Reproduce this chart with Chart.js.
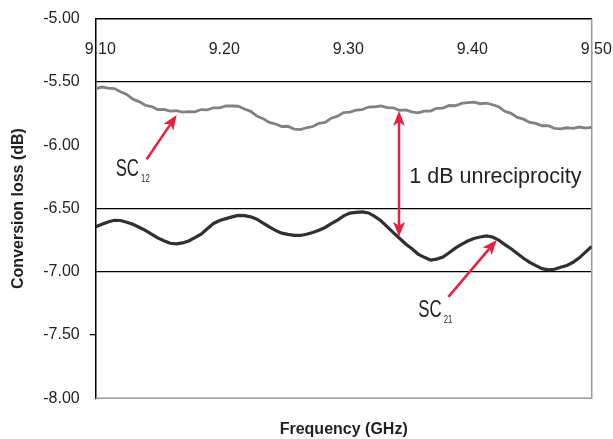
<!DOCTYPE html>
<html>
<head>
<meta charset="utf-8">
<script src="https://cdn.jsdelivr.net/npm/chart.js@4.4.1/dist/chart.umd.min.js"></script>
<style>
  html, body { margin: 0; padding: 0; background: #fff; }
</style>
</head>
<body>
<canvas id="lossChart" width="613" height="439"></canvas>
<script>
// Frequency points (GHz)
const freq = [
  9.100, 9.105, 9.110, 9.115, 9.120, 9.125, 9.130, 9.135, 9.140, 9.145,
  9.150, 9.155, 9.160, 9.165, 9.170, 9.175, 9.180, 9.185, 9.190, 9.195,
  9.200, 9.205, 9.210, 9.215, 9.220, 9.225, 9.230, 9.235, 9.240, 9.245,
  9.250, 9.255, 9.260, 9.265, 9.270, 9.275, 9.280, 9.285, 9.290, 9.295,
  9.300, 9.305, 9.310, 9.315, 9.320, 9.325, 9.330, 9.335, 9.340, 9.345,
  9.350, 9.355, 9.360, 9.365, 9.370, 9.375, 9.380, 9.385, 9.390, 9.395,
  9.400, 9.405, 9.410, 9.415, 9.420, 9.425, 9.430, 9.435, 9.440, 9.445,
  9.450, 9.455, 9.460, 9.465, 9.470, 9.475, 9.480, 9.485, 9.490, 9.495,
  9.500
];

// SC12 conversion loss (dB), grey trace
const sc12 = [
  -5.552, -5.540, -5.548, -5.552, -5.578, -5.598, -5.636, -5.655, -5.684, -5.694,
  -5.718, -5.716, -5.730, -5.726, -5.738, -5.734, -5.736, -5.718, -5.720, -5.704,
  -5.704, -5.690, -5.690, -5.692, -5.714, -5.732, -5.770, -5.790, -5.820, -5.832,
  -5.852, -5.850, -5.872, -5.876, -5.862, -5.852, -5.828, -5.820, -5.786, -5.770,
  -5.742, -5.738, -5.722, -5.718, -5.698, -5.696, -5.690, -5.702, -5.704, -5.724,
  -5.720, -5.736, -5.744, -5.730, -5.730, -5.708, -5.706, -5.686, -5.688, -5.670,
  -5.664, -5.660, -5.672, -5.668, -5.680, -5.696, -5.732, -5.748, -5.780, -5.794,
  -5.820, -5.828, -5.846, -5.846, -5.866, -5.870, -5.862, -5.866, -5.856, -5.864,
  -5.858
];

// SC21 conversion loss (dB), black trace
const sc21 = [
  -6.645, -6.625, -6.606, -6.593, -6.595, -6.608, -6.625, -6.648, -6.673, -6.703,
  -6.732, -6.755, -6.775, -6.780, -6.772, -6.757, -6.730, -6.703, -6.660, -6.618,
  -6.595, -6.580, -6.566, -6.554, -6.557, -6.566, -6.585, -6.615, -6.645, -6.673,
  -6.695, -6.705, -6.713, -6.713, -6.704, -6.690, -6.672, -6.650, -6.620, -6.592,
  -6.558, -6.536, -6.530, -6.527, -6.535, -6.562, -6.597, -6.643, -6.690, -6.735,
  -6.780, -6.818, -6.860, -6.886, -6.907, -6.900, -6.883, -6.850, -6.813, -6.783,
  -6.757, -6.737, -6.725, -6.716, -6.725, -6.750, -6.785, -6.818, -6.855, -6.893,
  -6.925, -6.952, -6.975, -6.985, -6.980, -6.965, -6.950, -6.925, -6.890, -6.845,
  -6.800
];

const xTicks = [9.10, 9.20, 9.30, 9.40, 9.50];
const yTicks = [-8.00, -7.50, -7.00, -6.50, -6.00, -5.50, -5.00];
const yGridLines = [-5.50, -6.50, -7.00];
const yTickMarks = [-7.50];

const textColor = "#231f20";
const red = "#e8203f";
const fontFamily = "'Liberation Sans', Arial, sans-serif";

// no extra side padding from tick labels
function noPad(s) {
  s.paddingLeft = 0;
  s.paddingRight = 0;
  s.paddingTop = 0;
  s.paddingBottom = 0;
}

// grey right / bottom frame lines
const framePlugin = {
  id: "frame",
  beforeDatasetsDraw(chart) {
    const { ctx, chartArea: a } = chart;
    ctx.save();
    ctx.strokeStyle = "#9a9a9a";
    ctx.lineWidth = 1.5;
    ctx.beginPath();
    ctx.moveTo(a.left, a.bottom);
    ctx.lineTo(a.right, a.bottom);
    ctx.lineTo(a.right, a.top);
    ctx.stroke();
    ctx.restore();
  },
};

function drawArrowHead(ctx, fromX, fromY, tipX, tipY) {
  const ang = Math.atan2(tipY - fromY, tipX - fromX);
  const len = 15, half = 6, notch = 11;
  ctx.save();
  ctx.translate(tipX, tipY);
  ctx.rotate(ang);
  ctx.beginPath();
  ctx.moveTo(0, 0);
  ctx.lineTo(-len, -half);
  ctx.lineTo(-notch, 0);
  ctx.lineTo(-len, half);
  ctx.closePath();
  ctx.fill();
  ctx.restore();
}

function drawArrow(ctx, x1, y1, x2, y2, both) {
  const ang = Math.atan2(y2 - y1, x2 - x1);
  const cut = 11;
  ctx.beginPath();
  ctx.moveTo(both ? x1 + Math.cos(ang) * cut : x1, both ? y1 + Math.sin(ang) * cut : y1);
  ctx.lineTo(x2 - Math.cos(ang) * cut, y2 - Math.sin(ang) * cut);
  ctx.stroke();
  drawArrowHead(ctx, x1, y1, x2, y2);
  if (both) drawArrowHead(ctx, x2, y2, x1, y1);
}

function drawSubLabel(ctx, main, sub, x, y) {
  ctx.save();
  ctx.translate(x, y);
  ctx.scale(0.7, 1);
  ctx.font = "24px " + fontFamily;
  ctx.fillText(main, 0, 0);
  const w = ctx.measureText(main).width;
  ctx.font = "11px " + fontFamily;
  ctx.fillText(sub, w + 3, 6);
  ctx.restore();
}

// arrows and text notes, placed in data units
const notesPlugin = {
  id: "notes",
  afterDatasetsDraw(chart) {
    const { ctx } = chart;
    const x = chart.scales.x, y = chart.scales.y;
    const px = (v) => x.getPixelForValue(v);
    const py = (v) => y.getPixelForValue(v);

    ctx.save();
    ctx.strokeStyle = red;
    ctx.fillStyle = red;
    ctx.lineWidth = 2.5;
    drawArrow(ctx, px(9.1411), py(-6.111), px(9.1653), py(-5.761), false);
    drawArrow(ctx, px(9.3844), py(-7.198), px(9.4234), py(-6.749), false);
    drawArrow(ctx, px(9.3446), py(-5.730), px(9.3446), py(-6.723), true);

    ctx.fillStyle = textColor;
    ctx.textBaseline = "alphabetic";
    ctx.textAlign = "left";
    ctx.font = "21.5px " + fontFamily;
    ctx.fillText("1 dB unreciprocity", px(9.3529), py(-6.296));
    drawSubLabel(ctx, "SC", "12", px(9.1161), py(-6.241));
    drawSubLabel(ctx, "SC", "21", px(9.3602), py(-7.360));
    ctx.restore();
  },
};

const ctx = document.getElementById("lossChart").getContext("2d");

new Chart(ctx, {
  type: "line",
  data: {
    datasets: [
      {
        label: "SC12",
        data: freq.map((f, i) => ({ x: f, y: sc12[i] })),
        borderColor: "#828282",
        borderWidth: 2.8,
        pointRadius: 0,
        tension: 0,
      },
      {
        label: "SC21",
        data: freq.map((f, i) => ({ x: f, y: sc21[i] })),
        borderColor: "#303030",
        borderWidth: 3.2,
        pointRadius: 0,
        tension: 0,
      },
    ],
  },
  options: {
    responsive: false,
    animation: false,
    layout: { padding: { right: 21.3 } },
    plugins: {
      legend: { display: false },
      tooltip: { enabled: false },
    },
    scales: {
      x: {
        type: "linear",
        position: "top",
        min: 9.1,
        max: 9.5,
        afterBuildTicks: (s) => { s.ticks = xTicks.map((v) => ({ value: v })); },
        afterFit: (s) => { s.height = 18.7; noPad(s); },
        grid: { display: false },
        border: { display: true, color: "#000", width: 1.5 },
        ticks: {
          mirror: true,
          align: "start",
          labelOffset: -11,
          padding: 21,
          autoSkip: false,
          maxRotation: 0,
          color: textColor,
          font: { family: fontFamily, size: 16 },
          callback: (v) => Number(v).toFixed(2),
        },
      },
      x2: {
        type: "linear",
        position: "bottom",
        afterFit: (s) => { s.height = 40.7; noPad(s); },
        grid: { display: false },
        border: { display: false },
        ticks: { display: false },
        title: {
          display: true,
          text: "Frequency (GHz)",
          color: textColor,
          padding: 0,
          font: { family: fontFamily, size: 16, weight: "bold" },
        },
      },
      y: {
        type: "linear",
        min: -8,
        max: -5,
        afterBuildTicks: (s) => { s.ticks = yTicks.map((v) => ({ value: v })); },
        afterFit: (s) => { s.width = 95.7; noPad(s); },
        grid: {
          color: (c) => (c.tick && yGridLines.includes(c.tick.value) ? "#000" : "rgba(0,0,0,0)"),
          tickColor: (c) => (c.tick && yTickMarks.includes(c.tick.value) ? "#000" : "rgba(0,0,0,0)"),
          lineWidth: 1.3,
          tickLength: 6,
        },
        border: { display: true, color: "#000", width: 1.5 },
        ticks: {
          padding: 10,
          color: textColor,
          font: { family: fontFamily, size: 16 },
          callback: (v) => Number(v).toFixed(2),
        },
        title: {
          display: true,
          text: "Conversion loss (dB)",
          color: textColor,
          padding: { top: 8.7 },
          font: { family: fontFamily, size: 16, weight: "bold" },
        },
      },
    },
  },
  plugins: [framePlugin, notesPlugin],
});
</script>
</body>
</html>
